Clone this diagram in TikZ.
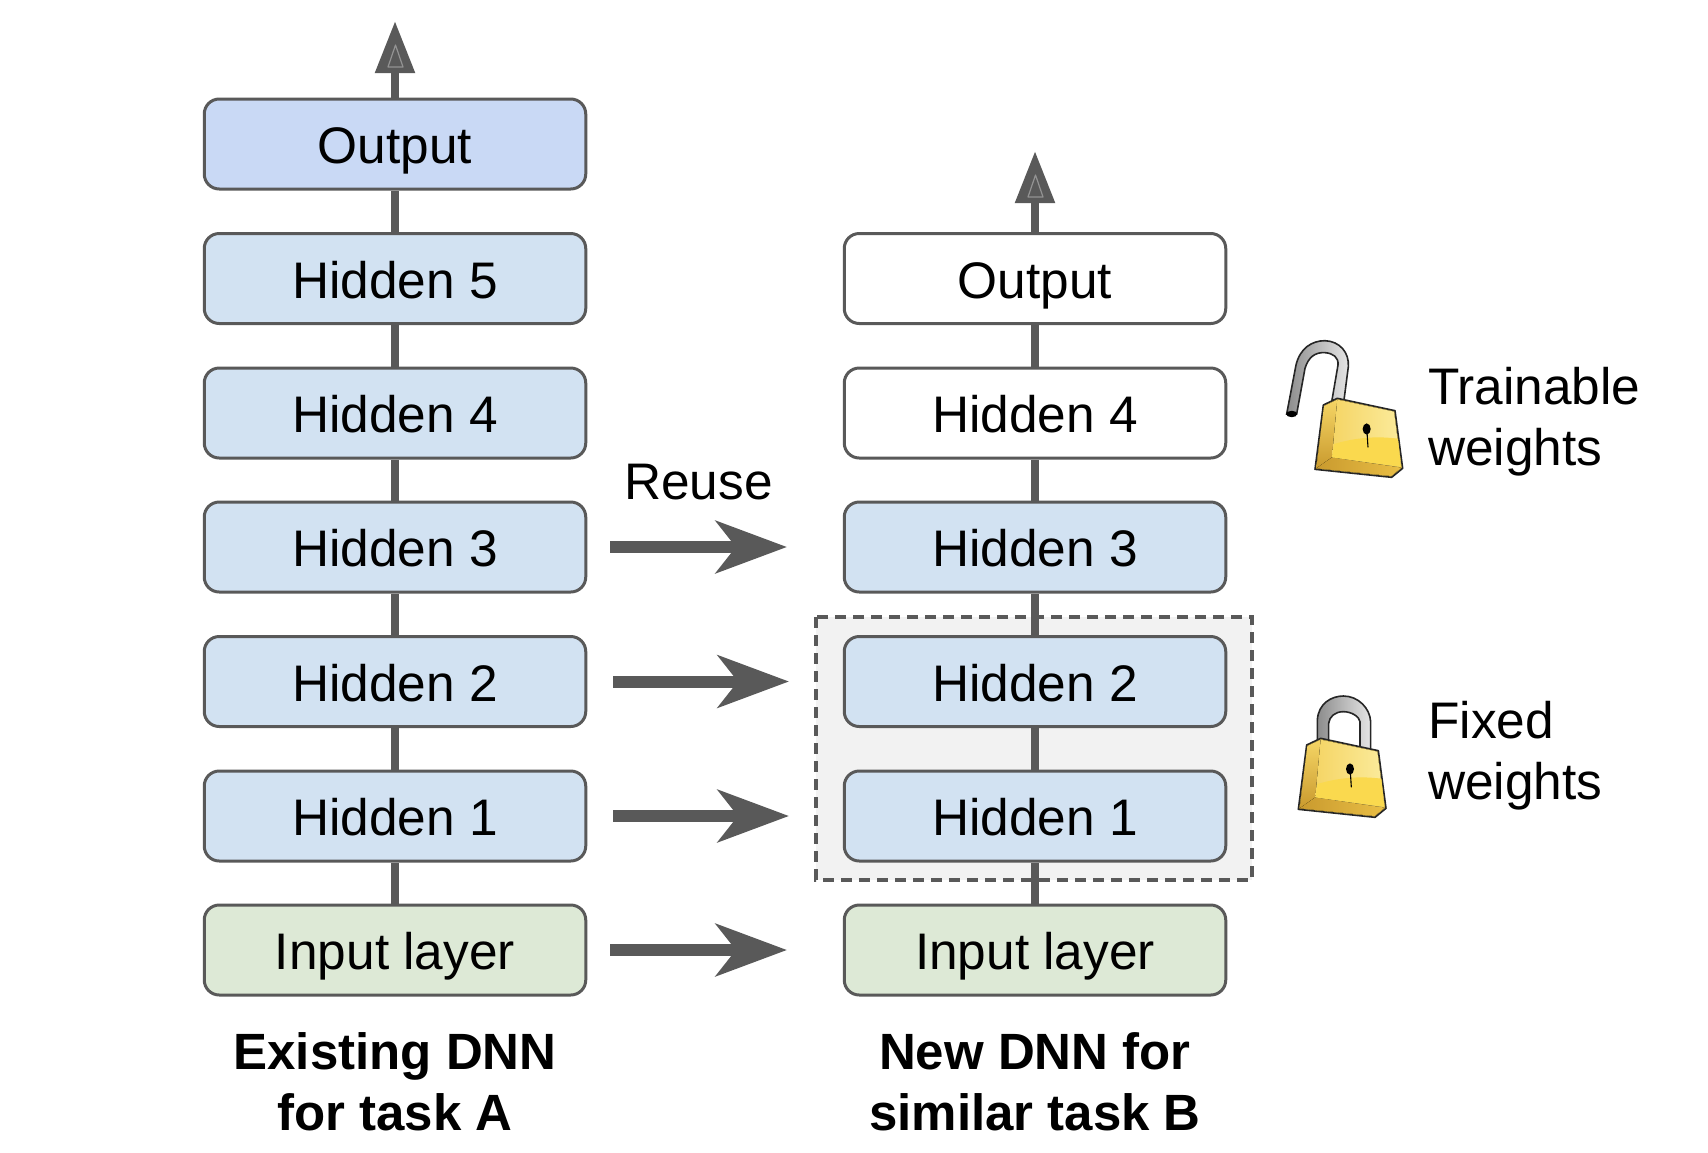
\documentclass[tikz,border=0pt]{standalone}
\usepackage{fontspec}
\setmainfont{Liberation Sans}
\usetikzlibrary{arrows.meta,backgrounds}
\definecolor{edgegray}{HTML}{595959}
\definecolor{outblue}{HTML}{C9D9F5}
\definecolor{hidblue}{HTML}{D2E2F2}
\definecolor{inpgreen}{HTML}{DDE9D6}
\definecolor{framefill}{HTML}{F2F2F2}
\definecolor{goldbase}{HTML}{F3CF55}
\definecolor{goldlight}{HTML}{FBEB9C}
\definecolor{goldmid}{HTML}{F5D565}
\definecolor{goldlow}{HTML}{FAD94E}
\definecolor{golddark}{HTML}{C99A2E}
\definecolor{goldside}{HTML}{E9BE45}
\tikzset{
  layerbox/.style={draw=edgegray,line width=3pt,rounded corners=15pt,minimum width=381.5pt,minimum height=90pt,inner sep=0pt,text=black,text height=39pt,text depth=0pt,font=\fontsize{51.4}{60}\selectfont},
  link/.style={draw=edgegray,line width=8.5pt},
  outarrow/.style={draw=edgegray,line width=8.5pt,-{Triangle[length=52pt,width=38pt]}},
  reusearrow/.style={draw=edgegray,line width=12pt,-{Stealth[length=71pt,width=52pt,inset=20pt]}},
  plainlabel/.style={inner sep=0pt,text=black,font=\fontsize{51.4}{61}\selectfont,align=left},
  boldlabel/.style={inner sep=0pt,text=black,font=\fontsize{51}{61}\selectfont\bfseries,align=center},
  tipmark/.style={draw=gray!85,line width=1.2pt,line join=round},
  lockedge/.style={draw=black!85,line width=1.6pt,line join=round},
  pics/lockbody/.style={code={
    \fill[lockedge,fill=goldbase] (190,255)--(232,235)--(405,272)--(428,445)--(395,472)--(165,448)--cycle;
    \fill[bottom color=golddark,top color=goldmid] (192,258)--(232,239)--(216,412)--(169,445)--cycle;
    \fill[left color=golddark,right color=goldside] (216,412)--(424,443)--(394,468)--(169,445)--cycle;
    \fill[left color=goldmid,right color=goldlight] (232,239)--(402,275)--(423,441)--(216,412)--cycle;
    \fill[goldlow] (222,372) .. controls (290,352) and (350,348) .. (414,356) -- (423,441) -- (216,412) -- cycle;
    \fill[black] (320,327) ellipse (4pt and 5.6pt);
    \draw[black,line width=1.1pt] (321,335) -- (324,382);
  }}
}
\begin{document}
\begin{tikzpicture}[x=1pt,y=-1pt]
\useasboundingbox (0,0) rectangle (1708,1152);
% left stack
\node[layerbox,fill=outblue] (aout) at (395,144) {Output};
\node[layerbox,fill=hidblue] (a5) at (395,278.5) {Hidden 5};
\node[layerbox,fill=hidblue] (a4) at (395,413) {Hidden 4};
\node[layerbox,fill=hidblue] (a3) at (395,547) {Hidden 3};
\node[layerbox,fill=hidblue] (a2) at (395,681.5) {Hidden 2};
\node[layerbox,fill=hidblue] (a1) at (395,816) {Hidden 1};
\node[layerbox,fill=inpgreen] (ain) at (395,950) {Input layer};
% right stack
\node[layerbox,fill=white] (bout) at (1035,278.5) {Output};
\node[layerbox,fill=white] (b4) at (1035,413) {Hidden 4};
\node[layerbox,fill=hidblue] (b3) at (1035,547) {Hidden 3};
\node[layerbox,fill=hidblue] (b2) at (1035,681.5) {Hidden 2};
\node[layerbox,fill=hidblue] (b1) at (1035,816) {Hidden 1};
\node[layerbox,fill=inpgreen] (bin) at (1035,950) {Input layer};
% free ends
\coordinate (atop) at (395,21);
\coordinate (btop) at (1035,151);
\coordinate (r3s) at (610,547); \coordinate (r3e) at (787,547);
\coordinate (r2s) at (613,681.5); \coordinate (r2e) at (789,681.5);
\coordinate (r1s) at (613,816);   \coordinate (r1e) at (789,816);
\coordinate (r0s) at (610,950);   \coordinate (r0e) at (787,950);
\begin{pgfonlayer}{background}
  \draw[fill=framefill,draw=edgegray,line width=3.2pt,dash pattern=on 11pt off 7pt] (816,617) rectangle (1252,880);
  \draw[link] (ain) -- (a1);
  \draw[link] (a1) -- (a2);
  \draw[link] (a2) -- (a3);
  \draw[link] (a3) -- (a4);
  \draw[link] (a4) -- (a5);
  \draw[link] (a5) -- (aout);
  \draw[link] (bin) -- (b1);
  \draw[link] (b1) -- (b2);
  \draw[link] (b2) -- (b3);
  \draw[link] (b3) -- (b4);
  \draw[link] (b4) -- (bout);
\end{pgfonlayer}
\draw[outarrow] (aout) -- (atop);
\draw[outarrow] (bout) -- (btop);
\draw[tipmark] (395.5,45) -- (388,67) -- (403,67) -- cycle;
\draw[tipmark] (1035.5,175) -- (1028,197) -- (1043,197) -- cycle;
\draw[reusearrow] (r3s) -- (r3e);
\draw[reusearrow] (r2s) -- (r2e);
\draw[reusearrow] (r1s) -- (r1e);
\draw[reusearrow] (r0s) -- (r0e);
% labels
\node[plainlabel] (reuse) at (698.5,482) {Reuse};
\node[plainlabel,anchor=west] (trainable) at (1428,421.5) {Trainable\\weights};
\node[plainlabel,anchor=west] (fixed) at (1428,755.5) {Fixed\\weights};
\node[boldlabel] (capa) at (395,1082) {Existing DNN\\for task A};
\node[boldlabel] (capb) at (1035,1082) {New DNN for\\similar task B};
% open lock
\begin{scope}[shift={(1260,320)},x=0.3333pt,y=-0.3333pt]
  \draw[left color=black!45,right color=black!10,draw=black!85,line width=1.6pt] (80,282) -- (108,135) .. controls (120,85) and (155,62) .. (195,62) .. controls (240,64) and (268,98) .. (265,140) -- (252,240) -- (216,240) -- (234,135) .. controls (236,112) and (220,100) .. (195,98) .. controls (165,96) and (145,112) .. (135,145) -- (110,282) -- cycle;
  \fill[black] (95,282) ellipse (5.5pt and 3.2pt);
  \pic {lockbody};
\end{scope}
% closed lock
\begin{scope}[shift={(1280,680)},x=0.3333pt,y=-0.3333pt]
  \draw[left color=black!45,right color=black!10,draw=black!85,line width=1.6pt] (112,180) -- (112,120) .. controls (115,70) and (155,48) .. (190,48) .. controls (235,48) and (270,85) .. (272,125) -- (272,210) -- (240,205) -- (240,125) .. controls (238,110) and (215,95) .. (190,95) .. controls (165,95) and (148,110) .. (146,130) -- (146,180) -- cycle;
  \pic[shift={(-110,-60)}] {lockbody};
\end{scope}
\end{tikzpicture}
\end{document}
